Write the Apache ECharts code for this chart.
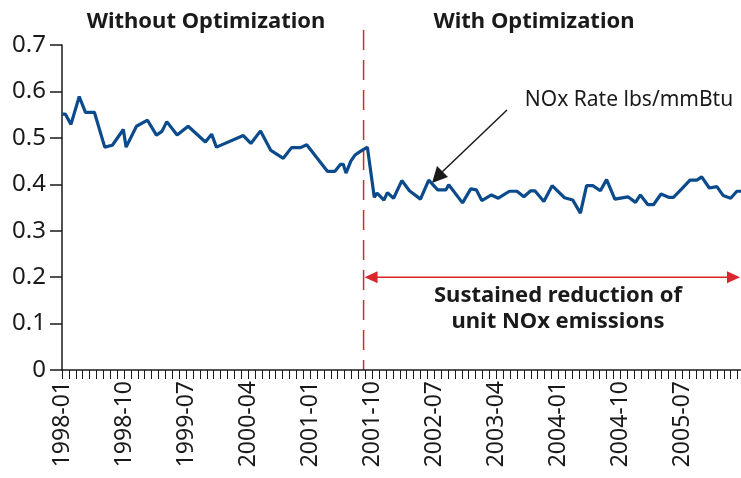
<!DOCTYPE html>
<html>
<head>
<meta charset="utf-8">
<script src="https://cdn.jsdelivr.net/npm/echarts@6/dist/echarts.min.js"></script>
<style>
  html, body { margin: 0; padding: 0; background: #fff; }
  #chart { width: 741px; height: 478px; }
</style>
</head>
<body>
<div id="chart"></div>
<script>
// months since 1998-01 (position on the time line) and NOx rate
var months = [
  0, 0.5, 1.3, 2.5, 3.4, 4.7, 6.2, 7.3, 8.9, 9.3, 10.8, 12.4, 13.7, 14.5, 15.2, 16.7,
  18.3, 20.8, 21.7, 22.4, 26.3, 27.4, 28.8, 30.3, 32.1, 33.3, 34.6, 35.5, 38.5, 39.6,
  40.4, 40.8, 41.2, 41.9, 42.5, 43.4, 44.3, 45.3, 45.7, 46.7, 47.2, 48.1, 49.3, 50.4,
  52.0, 53.2, 54.5, 55.7, 56.1, 58.1, 59.3, 60.1, 60.9, 62.3, 63.3, 64.9, 66.0, 67.0,
  68.0, 68.6, 69.9, 71.1, 72.9, 74.1, 75.2, 76.1, 77.0, 78.1, 79.0, 80.2, 82.1, 83.2,
  83.9, 85.0, 85.8, 86.9, 88.0, 88.7, 89.9, 91.1, 92.1, 92.8, 93.9, 95.0, 95.9, 97.0,
  97.9, 98.5
];
var noxRate = [
  0.551, 0.551, 0.529, 0.589, 0.555, 0.555, 0.480, 0.484, 0.518, 0.480, 0.525, 0.538, 0.506, 0.514, 0.535, 0.506,
  0.525, 0.491, 0.508, 0.480, 0.505, 0.488, 0.515, 0.473, 0.456, 0.479, 0.479, 0.485, 0.428, 0.428,
  0.443, 0.443, 0.424, 0.450, 0.463, 0.472, 0.480, 0.372, 0.381, 0.366, 0.382, 0.370, 0.408, 0.386,
  0.368, 0.409, 0.388, 0.388, 0.399, 0.360, 0.390, 0.388, 0.365, 0.377, 0.370, 0.385, 0.385, 0.373,
  0.386, 0.386, 0.363, 0.397, 0.371, 0.366, 0.338, 0.397, 0.397, 0.386, 0.410, 0.368, 0.373, 0.361,
  0.377, 0.356, 0.356, 0.379, 0.372, 0.372, 0.390, 0.409, 0.409, 0.416, 0.392, 0.395, 0.376, 0.370,
  0.385, 0.385
];
var startYear = 1998;
var labelEvery = 9;          // a date label every 9 months
var optimizationStart = 43.75; // where the dashed line sits
var arrowLevel = 0.2;

function monthLabel(v) {
  if (v % labelEvery !== 0) return '';
  var y = startYear + Math.floor(v / 12);
  var m = v % 12 + 1;
  return y + '-' + (m < 10 ? '0' + m : m);
}

var points = months.map(function (m, i) { return [m, noxRate[i]]; });

var chart = echarts.init(document.getElementById('chart'));
var option = {
  animation: false,
  grid: { left: 62, right: 0, top: 45, bottom: 108 },
  xAxis: {
    type: 'value',
    min: 0,
    max: 98.5,
    interval: 1,
    splitLine: { show: false },
    axisLine: { lineStyle: { color: '#1a1a1a', width: 1.5 } },
    axisTick: { show: true, length: 9, lineStyle: { color: '#1a1a1a' } },
    axisLabel: {
      rotate: 90,
      margin: 11,
      color: '#1a1a1a',
      fontFamily: 'Noto Sans',
      fontSize: 23,
      formatter: monthLabel
    }
  },
  yAxis: {
    type: 'value',
    min: 0,
    max: 0.7,
    interval: 0.1,
    splitLine: { show: false },
    axisLine: { show: true, lineStyle: { color: '#1a1a1a', width: 1.5 } },
    axisTick: { show: true, length: 12, lineStyle: { color: '#1a1a1a', width: 1.5 } },
    axisLabel: {
      margin: 16,
      color: '#1a1a1a',
      fontFamily: 'Noto Sans',
      fontSize: 24,
      formatter: function (v) { return v === 0 ? '0' : v.toFixed(1); }
    }
  },
  series: [{
    name: 'NOx Rate lbs/mmBtu',
    type: 'line',
    data: points,
    showSymbol: false,
    lineStyle: { color: '#0b4a8b', width: 3.2 }
  }]
};
chart.setOption(option);

var xCut = chart.convertToPixel({ xAxisIndex: 0 }, optimizationStart);
var xEnd = chart.convertToPixel({ xAxisIndex: 0 }, 98.5);
var yArrow = chart.convertToPixel({ yAxisIndex: 0 }, arrowLevel);
var yZero = chart.convertToPixel({ yAxisIndex: 0 }, 0);
var red = '#d9262c';

chart.setOption({
  graphic: [
    { type: 'line', shape: { x1: xCut, y1: 30, x2: xCut, y2: yZero },
      style: { stroke: red, lineWidth: 1.5, lineDash: [20, 10] } },
    { type: 'line', shape: { x1: xCut + 10, y1: yArrow, x2: xEnd - 10, y2: yArrow },
      style: { stroke: red, lineWidth: 1.5 } },
    { type: 'polygon', shape: { points: [[xCut + 1, yArrow], [xCut + 14, yArrow - 6], [xCut + 14, yArrow + 6]] },
      style: { fill: red } },
    { type: 'polygon', shape: { points: [[xEnd - 1, yArrow], [xEnd - 14, yArrow - 6], [xEnd - 14, yArrow + 6]] },
      style: { fill: red } },
    { type: 'text', x: 206, y: 22,
      style: { text: 'Without Optimization', fill: '#1a1a1a', font: 'bold 22px "Noto Sans"', align: 'center', verticalAlign: 'middle' } },
    { type: 'text', x: 534, y: 22,
      style: { text: 'With Optimization', fill: '#1a1a1a', font: 'bold 22px "Noto Sans"', align: 'center', verticalAlign: 'middle' } },
    { type: 'text', x: 629, y: 100,
      style: { text: 'NOx Rate lbs/mmBtu', fill: '#1a1a1a', font: '21px "Noto Sans"', align: 'center', verticalAlign: 'middle' } },
    { type: 'line', shape: { x1: 507, y1: 110, x2: 440, y2: 174 },
      style: { stroke: '#1a1a1a', lineWidth: 1.5 } },
    { type: 'polygon', shape: { points: [[432, 183], [437, 166], [448, 177]] },
      style: { fill: '#1a1a1a' } },
    { type: 'text', x: 558, y: 309,
      style: { text: 'Sustained reduction of\nunit NOx emissions', fill: '#1a1a1a', font: 'bold 22px "Noto Sans"',
        align: 'center', verticalAlign: 'middle', lineHeight: 26 } }
  ]
});
</script>
</body>
</html>
